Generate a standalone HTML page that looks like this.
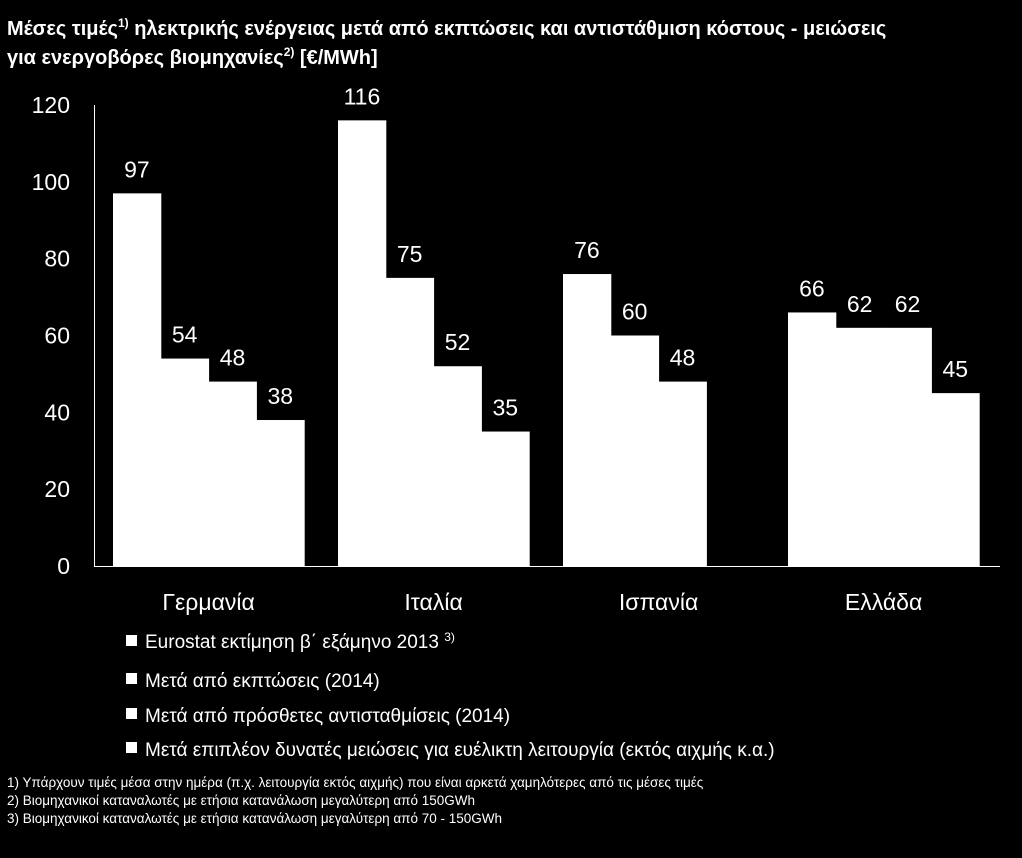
<!DOCTYPE html>
<html><head><meta charset="utf-8"><style>
body{margin:0;background:#000;width:1022px;height:853px;overflow:hidden;font-family:"Liberation Sans","DejaVu Sans",sans-serif;color:#fff}
</style></head><body>
<svg width="1022" height="853" xmlns="http://www.w3.org/2000/svg" style="font-family:'Liberation Sans','DejaVu Sans',sans-serif">
<text x="7" y="35" font-size="20" font-weight="bold" fill="#fff">Μέσες τιμές<tspan font-size="12" dy="-8">1)</tspan><tspan dy="8"> ηλεκτρικής ενέργειας μετά από εκπτώσεις και αντιστάθμιση κόστους - μειώσεις</tspan></text>
<text x="7" y="64" font-size="20" font-weight="bold" fill="#fff">για ενεργοβόρες βιομηχανίες<tspan font-size="12" dy="-8">2)</tspan><tspan dy="8"> [€/MWh]</tspan></text>
<g id="axes"></g><g id="bars"></g>
<g font-size="19" fill="#fff">
<rect x="126" y="635" width="11" height="11" fill="#fff"/><text x="145" y="648">Eurostat εκτίμηση β΄ εξάμηνο 2013 <tspan font-size="12" dy="-7">3)</tspan></text>
<rect x="126" y="673" width="11" height="11" fill="#fff"/><text x="145" y="687">Μετά από εκπτώσεις (2014)</text>
<rect x="126" y="708" width="11" height="11" fill="#fff"/><text x="145" y="722">Μετά από πρόσθετες αντισταθμίσεις (2014)</text>
<rect x="126" y="742" width="11" height="11" fill="#fff"/><text x="145" y="756">Μετά επιπλέον δυνατές μειώσεις για ευέλικτη λειτουργία (εκτός αιχμής κ.α.)</text>
</g>
<g font-size="13.5" fill="#fff">
<text x="7" y="787">1) Υπάρχουν τιμές μέσα στην ημέρα (π.χ. λειτουργία εκτός αιχμής) που είναι αρκετά χαμηλότερες από τις μέσες τιμές</text>
<text x="7" y="805">2) Βιομηχανικοί καταναλωτές με ετήσια κατανάλωση μεγαλύτερη από 150GWh</text>
<text x="7" y="823">3) Βιομηχανικοί καταναλωτές με ετήσια κατανάλωση μεγαλύτερη από 70 - 150GWh</text>
</g>
</svg>
<script>
const categories=["Γερμανία","Ιταλία","Ισπανία","Ελλάδα"];
const series1=[97,116,76,66];
const series2=[54,75,60,62];
const series3=[48,52,48,62];
const series4=[38,35,null,45];
const yTicks=[0,20,40,60,80,100,120];
const NS="http://www.w3.org/2000/svg";
const y0=566,yTop=105,x0=113,groupW=225,barW=47.8;
const y=v=>y0-(v/120)*(y0-yTop);
function mk(t,a,p){const e=document.createElementNS(NS,t);for(const k in a)e.setAttribute(k,a[k]);p.appendChild(e);return e;}
const ax=document.getElementById('axes'),bg=document.getElementById('bars');
const yl=mk('line',{x1:94.5,y1:yTop,x2:94.5,y2:y0,stroke:'#fff','stroke-width':1},ax);


const xl=mk('line',{x1:94,y1:y0+0.5,x2:1000,y2:y0+0.5,stroke:'#fff','stroke-width':1},ax);


yTicks.forEach(t=>{const e=mk('text',{x:70,y:y(t)+8,'text-anchor':'end','font-size':23,fill:'#fff'},ax);e.textContent=t;

});
const all=[series1,series2,series3,series4];
categories.forEach((c,i)=>{const gx=x0+i*groupW;
const l=mk('text',{x:gx+2*barW,y:610,'text-anchor':'middle','font-size':23,fill:'#fff'},ax);l.textContent=c;


all.forEach((s,j)=>{const v=s[i];if(v==null)return;const bx=gx+j*barW;
const r=mk('rect',{x:bx,y:y(v),width:barW+0.5,height:y0-y(v),fill:'#fff'},bg);


const t=mk('text',{x:bx+barW/2,y:y(v)-16,'text-anchor':'middle','font-size':23,fill:'#fff'},bg);t.textContent=v;

});});
</script>
</body></html>
